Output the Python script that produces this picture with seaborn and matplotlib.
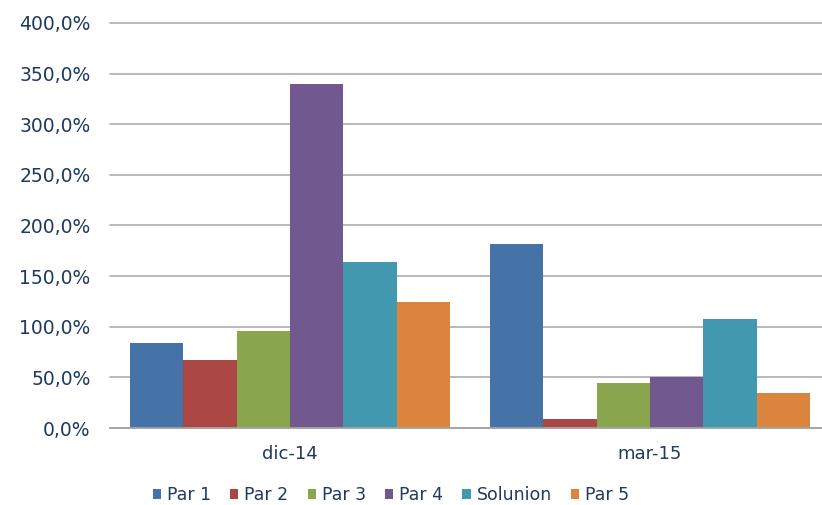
import matplotlib
matplotlib.use("Agg")
import matplotlib.pyplot as plt
from matplotlib.patches import Patch
from matplotlib.ticker import FuncFormatter, MultipleLocator
import seaborn as sns
import pandas as pd

# Periods on the x axis
periodos = ["dic-14", "mar-15"]

# Percentage values per series (one value per period)
series = ["Par 1", "Par 2", "Par 3", "Par 4", "Solunion", "Par 5"]
par_1 = [84.3, 181.5]
par_2 = [67.2, 8.6]
par_3 = [95.5, 44.5]
par_4 = [340.0, 50.0]
solunion = [164.0, 107.5]
par_5 = [124.2, 34.3]

colores = ["#4572A7", "#AA4643", "#89A54E", "#71588F", "#4198AF", "#DB843D"]

valores = [par_1, par_2, par_3, par_4, solunion, par_5]
df = pd.DataFrame(
    [(p, s, v[i]) for s, v in zip(series, valores) for i, p in enumerate(periodos)],
    columns=["periodo", "serie", "valor"],
)

sns.set_theme(style="white")
plt.rcParams["font.family"] = ["DejaVu Sans"]
texto = "#1F3A5F"

fig = plt.figure(figsize=(8.22, 5.05), dpi=100)
ax = fig.add_axes([110 / 822, 77 / 505, 720 / 822, 405 / 505])

sns.barplot(
    data=df, x="periodo", y="valor", hue="serie", order=periodos,
    hue_order=series, palette=colores, saturation=1, width=0.889,
    gap=0, linewidth=0, ax=ax, legend=False,
)

ax.set_ylim(0, 400)
ax.set_xlim(-0.5, 1.5)
ax.yaxis.set_major_locator(MultipleLocator(50))
ax.yaxis.set_major_formatter(
    FuncFormatter(lambda v, _: f"{v:.1f}".replace(".", ",") + "%")
)
ax.grid(axis="y", color="#A6A6A6", linewidth=1.1)
for gl in ax.get_ygridlines():
    gl.set_clip_on(False)
ax.set_axisbelow(True)
for s in ["top", "right", "left"]:
    ax.spines[s].set_visible(False)
ax.spines["bottom"].set_color("#A6A6A6")
ax.spines["bottom"].set_linewidth(1.3)
ax.tick_params(axis="y", length=0, pad=14, labelsize=13.5, labelcolor=texto)
ax.tick_params(axis="x", length=0, pad=12, labelsize=13, labelcolor=texto)
ax.set_xlabel("")
ax.set_ylabel("")

handles = [Patch(facecolor=c, edgecolor="none", label=s) for c, s in zip(colores, series)]
fig.legend(
    handles=handles, loc="center", bbox_to_anchor=(391 / 822, 1 - 495 / 505),
    ncol=6, frameon=False, fontsize=12.5, labelcolor=texto,
    handlelength=0.47, handleheight=0.47, handletextpad=0.35, columnspacing=1.1,
    borderaxespad=0,
)

fig.savefig("out.png", dpi=100)
